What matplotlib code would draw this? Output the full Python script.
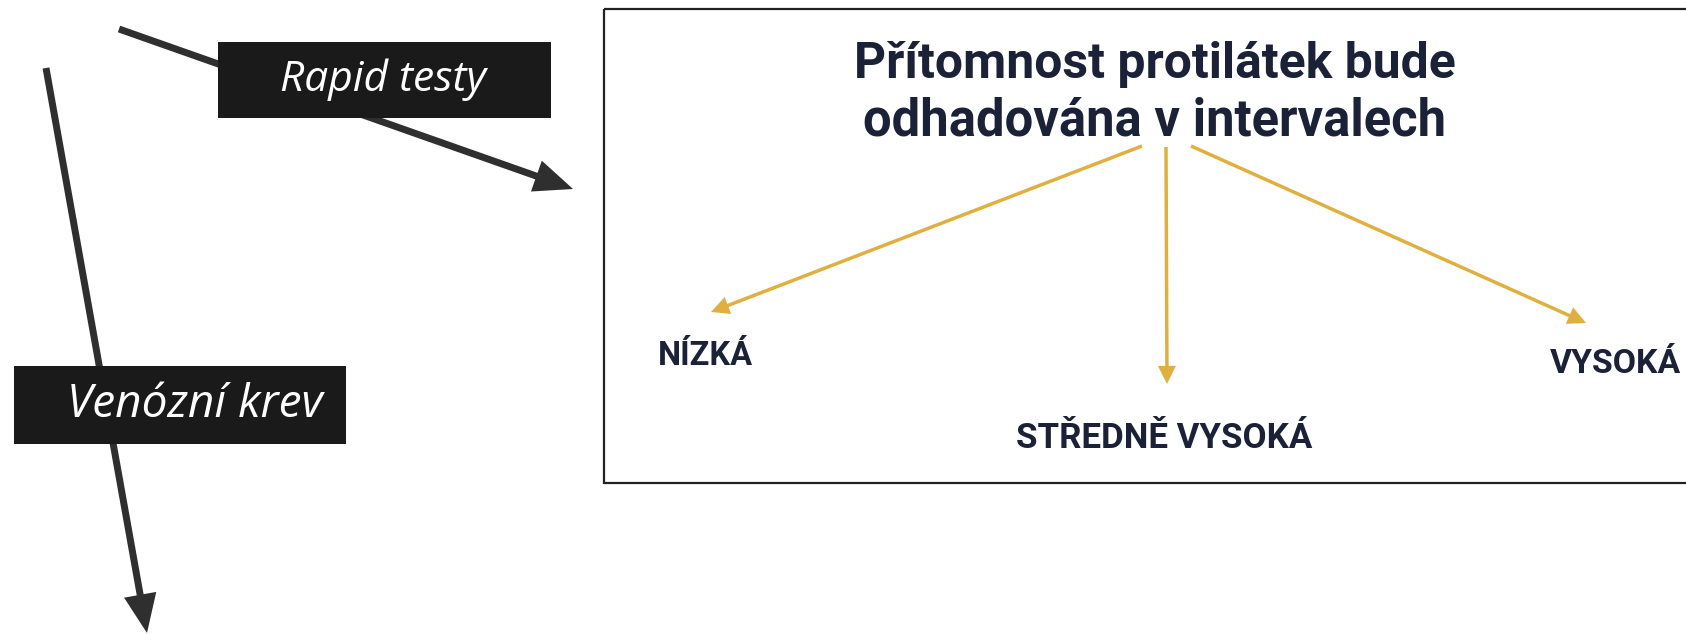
import matplotlib
matplotlib.use("Agg")
import matplotlib.pyplot as plt
from matplotlib.patches import Rectangle, FancyArrowPatch

# ---- content ----
source_labels = ["Rapid testy", "Venózní krev"]
title_lines = ["Přítomnost protilátek bude", "odhadována v intervalech"]
level_labels = ["NÍZKÁ", "STŘEDNĚ VYSOKÁ", "VYSOKÁ"]

W, H = 1686, 634
fig = plt.figure(figsize=(W / 100, H / 100), dpi=100)
ax = fig.add_axes([0, 0, 1, 1])
ax.set_xlim(0, W)
ax.set_ylim(H, 0)
ax.axis("off")

DARK = "#2f2f2f"
BOXC = "#1a1a1a"
NAVY = "#1b2238"
GOLD = "#dfb03f"
BOLD_FAM = ["Roboto", "Lato", "DejaVu Sans"]

# main frame (extends past the right edge)
ax.add_patch(Rectangle((604, 9), 1200, 474, fill=False, edgecolor="#222222",
                       linewidth=1.6, zorder=1))

def arrow(p0, p1, color, lw, hl, hw, z=2):
    a = FancyArrowPatch(p0, p1, arrowstyle=f"-|>,head_length={hl},head_width={hw}",
                        mutation_scale=10, color=color, linewidth=lw,
                        shrinkA=0, shrinkB=0, zorder=z, joinstyle="miter",
                        capstyle="butt")
    ax.add_patch(a)

# dark arrows
arrow((119, 29), (573, 189), DARK, 5.0, 1.9, 0.8)
arrow((46, 68), (147, 633), DARK, 5.0, 1.9, 0.8)

# label boxes
ax.add_patch(Rectangle((218, 42), 333, 76, facecolor=BOXC, edgecolor="none", zorder=3))
ax.add_patch(Rectangle((14, 366), 332, 78, facecolor=BOXC, edgecolor="none", zorder=3))

texts = []
def txt(x, y, s, width, **kw):
    t = ax.text(x, y, s, va="center", fontsize=20, **kw)
    if width:
        texts.append((t, width))
    return t

txt(383, 80, source_labels[0], 206, ha="center", color="white", style="italic",
    family="Open Sans", zorder=4)
txt(195, 405, source_labels[1], 256, ha="center", color="white", style="italic",
    family="Open Sans", zorder=4)

txt(1155, 64, title_lines[0], 600, ha="center", color=NAVY, weight="bold", family=BOLD_FAM)
txt(1155, 122, title_lines[1], 581, ha="center", color=NAVY, weight="bold", family=BOLD_FAM)

# gold arrows
arrow((1142, 146), (711, 312), GOLD, 2.5, 0.9, 0.45)
arrow((1166, 147), (1167, 384), GOLD, 2.5, 0.9, 0.45)
arrow((1191, 146), (1586, 323), GOLD, 2.5, 0.9, 0.45)

t_low = txt(705, 356, level_labels[0], 95, ha="center", color=NAVY, weight="bold", family=BOLD_FAM)
t_mid = txt(1164, 438, level_labels[1], 296, ha="center", color=NAVY, weight="bold", family=BOLD_FAM)
t_high = txt(1681, 364, level_labels[2], None, ha="right", color=NAVY, weight="bold", family=BOLD_FAM)

fig.canvas.draw()
r = fig.canvas.get_renderer()
for t, w in texts:
    bw = t.get_window_extent(r).width
    t.set_fontsize(t.get_fontsize() * w / bw)
t_high.set_fontsize(0.5 * (t_low.get_fontsize() + t_mid.get_fontsize()))

fig.savefig("out.png", dpi=100, facecolor="white")
